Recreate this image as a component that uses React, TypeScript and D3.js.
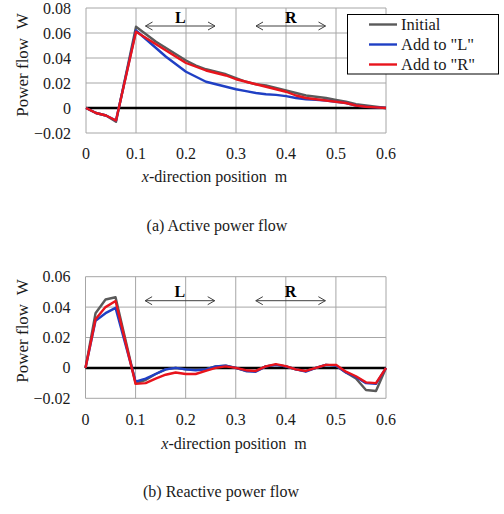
import React, { useEffect, useRef } from 'react'
import * as d3 from 'd3'

// Data
const positions = [
  0, 0.02, 0.04, 0.06, 0.1, 0.12, 0.14, 0.16, 0.18, 0.2, 0.22, 0.24, 0.26, 0.28, 0.3,
  0.32, 0.34, 0.36, 0.38, 0.4, 0.42, 0.44, 0.46, 0.48, 0.5, 0.52, 0.54, 0.56, 0.58, 0.6
]

const activeInitial = [
  0, -0.004, -0.006, -0.011, 0.065, 0.059, 0.053, 0.048, 0.043, 0.038, 0.034, 0.031, 0.029, 0.027, 0.024,
  0.021, 0.019, 0.018, 0.016, 0.014, 0.012, 0.01, 0.009, 0.008, 0.0065, 0.005, 0.003, 0.002, 0.001, 0
]
const activeAddL = [
  0, -0.004, -0.006, -0.01, 0.062, 0.055, 0.048, 0.041, 0.035, 0.029, 0.025, 0.021, 0.019, 0.017, 0.015,
  0.0135, 0.012, 0.011, 0.0105, 0.0095, 0.008, 0.007, 0.0065, 0.006, 0.005, 0.004, 0.002, 0.001, 0.0005, 0
]
const activeAddR = [
  0, -0.004, -0.006, -0.01, 0.061, 0.056, 0.051, 0.046, 0.041, 0.036, 0.033, 0.03, 0.028, 0.026, 0.023,
  0.021, 0.019, 0.017, 0.015, 0.013, 0.01, 0.008, 0.007, 0.006, 0.005, 0.004, 0.002, 0.001, 0.0005, 0
]

const reactiveInitial = [
  0, 0.036, 0.045, 0.0465, -0.01, -0.008, -0.004, -0.001, 0, -0.001, -0.001, -0.001, 0.001, 0.0015, 0,
  -0.002, -0.002, 0.001, 0.002, 0.001, -0.001, -0.002, 0, 0.002, 0.0015, -0.003, -0.007, -0.0145, -0.0152, 0
]
const reactiveAddL = [
  0, 0.031, 0.036, 0.0395, -0.009, -0.007, -0.004, -0.001, 0, -0.001, -0.0015, -0.001, 0.001, 0.0015, 0,
  -0.002, -0.0025, 0.001, 0.002, 0.001, -0.001, -0.0025, 0, 0.002, 0.0015, -0.003, -0.006, -0.01, -0.0105, 0
]
const reactiveAddR = [
  0, 0.032, 0.04, 0.044, -0.0105, -0.01, -0.007, -0.0045, -0.003, -0.004, -0.004, -0.002, 0, 0.001, 0,
  -0.0015, -0.002, 0.001, 0.0025, 0.0012, -0.001, -0.002, 0, 0.002, 0.002, -0.0025, -0.0055, -0.0095, -0.01, 0
]

const seriesNames = ['Initial', 'Add to "L"', 'Add to "R"']
const seriesColors = ['#5a5a5a', '#1f3fc4', '#e8141c']

const xTicks = [0, 0.1, 0.2, 0.3, 0.4, 0.5, 0.6]
const activeYTicks = [-0.02, 0, 0.02, 0.04, 0.06, 0.08]
const reactiveYTicks = [-0.02, 0, 0.02, 0.04, 0.06]

const regions = [
  { label: 'L', from: 0.119, to: 0.258 },
  { label: 'R', from: 0.34, to: 0.479 }
]

const FONT = '"Liberation Serif", "Times New Roman", serif'

function drawPanel(svg, opts) {
  const { top, bottom, left, right, yDomain, yTicks, series, arrowY, xTitleX, xTickY, xTitleY, yTitleY, caption, captionX, captionY, legend } = opts

  const x = d3.scaleLinear().domain([0, 0.6]).range([left, right])
  const y = d3.scaleLinear().domain(yDomain).range([bottom, top])

  const g = svg.append('g')

  // grid
  g.selectAll('line.vg')
    .data(xTicks)
    .enter()
    .append('line')
    .attr('x1', d => x(d))
    .attr('x2', d => x(d))
    .attr('y1', top)
    .attr('y2', bottom)
    .attr('stroke', '#a6a6a6')
    .attr('stroke-width', 1)
  g.selectAll('line.hg')
    .data(yTicks)
    .enter()
    .append('line')
    .attr('x1', left)
    .attr('x2', right)
    .attr('y1', d => y(d))
    .attr('y2', d => y(d))
    .attr('stroke', '#a6a6a6')
    .attr('stroke-width', 1)

  // tick labels
  g.selectAll('text.yt')
    .data(yTicks)
    .enter()
    .append('text')
    .attr('x', left - 15)
    .attr('y', d => y(d) + 5.5)
    .attr('text-anchor', 'end')
    .attr('font-family', FONT)
    .attr('font-size', 16)
    .attr('fill', '#1a1a1a')
    .text(d => (d === 0 ? '0' : d3.format('.2f')(d)))
  g.selectAll('text.xt')
    .data(xTicks)
    .enter()
    .append('text')
    .attr('x', d => x(d))
    .attr('y', xTickY)
    .attr('text-anchor', 'middle')
    .attr('font-family', FONT)
    .attr('font-size', 16)
    .attr('fill', '#1a1a1a')
    .text(d => (d === 0 ? '0' : d3.format('.1f')(d)))

  // zero line
  g.append('line')
    .attr('x1', left)
    .attr('x2', right)
    .attr('y1', y(0))
    .attr('y2', y(0))
    .attr('stroke', '#000')
    .attr('stroke-width', 2.5)

  // region arrows
  const ag = g.append('g')
  regions.forEach(r => {
    const x1 = x(r.from)
    const x2 = x(r.to)
    ag.append('line').attr('x1', x1).attr('x2', x2).attr('y1', arrowY).attr('y2', arrowY)
      .attr('stroke', '#404040').attr('stroke-width', 1)
    ag.append('path')
      .attr('d', `M${x1 + 7},${arrowY - 4}L${x1},${arrowY}L${x1 + 7},${arrowY + 4}`)
      .attr('fill', 'none').attr('stroke', '#404040').attr('stroke-width', 1)
    ag.append('path')
      .attr('d', `M${x2 - 7},${arrowY - 4}L${x2},${arrowY}L${x2 - 7},${arrowY + 4}`)
      .attr('fill', 'none').attr('stroke', '#404040').attr('stroke-width', 1)
    ag.append('text')
      .attr('x', (x1 + x2) / 2)
      .attr('y', arrowY - 3.5)
      .attr('text-anchor', 'middle')
      .attr('font-family', FONT)
      .attr('font-weight', 'bold')
      .attr('font-size', 16)
      .text(r.label)
  })

  // lines
  const line = d3
    .line()
    .x((d, i) => x(positions[i]))
    .y(d => y(d))
  series.forEach((s, i) => {
    g.append('path')
      .attr('d', line(s))
      .attr('fill', 'none')
      .attr('stroke', seriesColors[i])
      .attr('stroke-width', 2.4)
      .attr('stroke-linejoin', 'round')
  })

  // axis titles
  const xt = g.append('text')
    .attr('x', xTitleX)
    .attr('y', xTitleY)
    .attr('text-anchor', 'middle')
    .attr('font-family', FONT)
    .attr('font-size', 16)
    .attr('fill', '#1a1a1a')
    .attr('xml:space', 'preserve')
  xt.append('tspan').attr('font-style', 'italic').text('x')
  xt.append('tspan').text('-direction position\u00a0\u00a0m')

  g.append('text')
    .attr('transform', `translate(28,${yTitleY}) rotate(-90)`)
    .attr('text-anchor', 'middle')
    .attr('font-family', FONT)
    .attr('font-size', 17)
    .attr('fill', '#1a1a1a')
    .text('Power flow\u00a0\u00a0W')

  g.append('text')
    .attr('x', captionX)
    .attr('y', captionY)
    .attr('text-anchor', 'middle')
    .attr('font-family', FONT)
    .attr('font-size', 16)
    .attr('fill', '#1a1a1a')
    .text(caption)

  if (legend) {
    const lg = g.append('g')
    lg.append('rect')
      .attr('x', 347.5)
      .attr('y', 14.5)
      .attr('width', 151)
      .attr('height', 59.5)
      .attr('fill', '#fff')
      .attr('stroke', '#000')
      .attr('stroke-width', 1)
    seriesNames.forEach((name, i) => {
      const ry = 24.5 + i * 20
      lg.append('line')
        .attr('x1', 369)
        .attr('x2', 397)
        .attr('y1', ry)
        .attr('y2', ry)
        .attr('stroke', seriesColors[i])
        .attr('stroke-width', 2.4)
      lg.append('text')
        .attr('x', 401)
        .attr('y', ry + 5.5)
        .attr('font-family', FONT)
        .attr('font-size', 16.5)
        .attr('fill', '#1a1a1a')
        .text(name)
    })
  }
}

export default function App() {
  const ref = useRef(null)

  useEffect(() => {
    const svg = d3.select(ref.current)
    svg.selectAll('*').remove()

    drawPanel(svg, {
      top: 8,
      bottom: 133,
      left: 86,
      right: 386,
      yDomain: [-0.02, 0.08],
      yTicks: activeYTicks,
      series: [activeInitial, activeAddL, activeAddR],
      arrowY: 26,
      xTickY: 158.5,
      xTitleX: 214.5,
      xTitleY: 182,
      yTitleY: 65,
      caption: '(a) Active power flow',
      captionX: 217,
      captionY: 230.5,
      legend: true
    })

    drawPanel(svg, {
      top: 276.7,
      bottom: 398.3,
      left: 85.5,
      right: 386,
      yDomain: [-0.02, 0.06],
      yTicks: reactiveYTicks,
      series: [reactiveInitial, reactiveAddL, reactiveAddR],
      arrowY: 300.7,
      xTickY: 425,
      xTitleX: 234,
      xTitleY: 449,
      yTitleY: 331,
      caption: '(b) Reactive power flow',
      captionX: 221,
      captionY: 497,
      legend: false
    })
  }, [])

  return (
    <svg
      ref={ref}
      width={504}
      height={514}
      style={{ position: 'absolute', left: 0, top: 0, background: '#fff' }}
    />
  )
}
